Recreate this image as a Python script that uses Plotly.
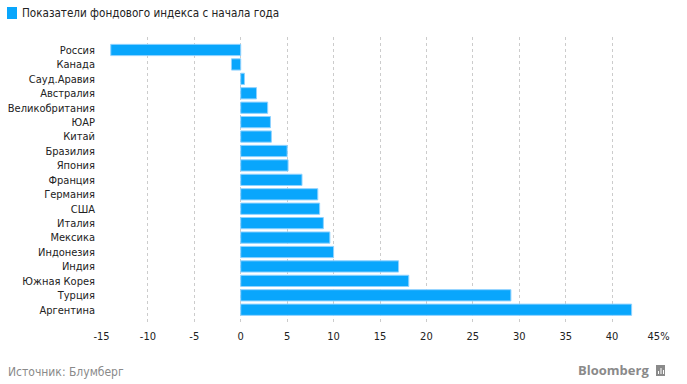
import plotly.graph_objects as go

countries = ["Россия", "Канада", "Сауд.Аравия", "Австралия", "Великобритания", "ЮАР", "Китай",
             "Бразилия", "Япония", "Франция", "Германия", "США", "Италия", "Мексика",
             "Индонезия", "Индия", "Южная Корея", "Турция", "Аргентина"]
values = [-14.0, -1.0, 0.4, 1.7, 2.9, 3.2, 3.3, 5.0, 5.1, 6.6, 8.3, 8.5, 8.9, 9.6, 10.0,
          17.0, 18.1, 29.1, 42.1]
tick_vals = [-15, -10, -5, 0, 5, 10, 15, 20, 25, 30, 35, 40, 45]
tick_text = ["-15", "-10", "-5", "0", "5", "10", "15", "20", "25", "30", "35", "40", "45%"]

FONT = "DejaVu Sans Condensed, DejaVu Sans"
fig = go.Figure()
fig.add_trace(go.Bar(
    y=countries, x=values, orientation="h",
    marker=dict(color="#09a6fc", line=dict(color="#8fd2ff", width=1)),
    hoverinfo="x+y",
))

fig.update_layout(
    width=687, height=384,
    margin=dict(l=101, r=28, t=37, b=62, autoexpand=False),
    paper_bgcolor="white", plot_bgcolor="white",
    showlegend=False, bargap=0.22,
    font=dict(family=FONT, size=11, color="#222"),
    xaxis=dict(range=[-15.05, 45.05], tickvals=tick_vals, ticktext=tick_text,
               showgrid=True, gridcolor="#cccccc", griddash="dot", gridwidth=1,
               zeroline=False, showline=False, ticks="", ticklabelstandoff=6,
               automargin=False,
               tickfont=dict(family=FONT, size=11, color="#222")),
    yaxis=dict(categoryorder="array", categoryarray=countries,
               range=[18.85, -0.9], showgrid=False, zeroline=False, showline=False,
               ticks="", ticklabelstandoff=5, automargin=False,
               tickfont=dict(family=FONT, size=11, color="#222")),
)

fig.add_shape(type="rect", xref="paper", yref="paper",
              x0=-94/558, x1=-84/558, y0=1+(37-7)/285, y1=1+(37-19)/285,
              fillcolor="#09a6fc", line=dict(width=0))
fig.add_annotation(text="Показатели фондового индекса с начала года",
                   xref="paper", yref="paper", x=-81/558, y=1+(37-13)/285,
                   xanchor="left", yanchor="middle", showarrow=False,
                   font=dict(family=FONT, size=11.6, color="#222"))
fig.add_annotation(text="Источник: Блумберг",
                   xref="paper", yref="paper", x=-95/558, y=-(372-322)/285,
                   xanchor="left", yanchor="middle", showarrow=False,
                   font=dict(family=FONT, size=12, color="#8a8a8a"))
fig.add_annotation(text="<b>Bloomberg</b>",
                   xref="paper", yref="paper", x=(651-101)/558, y=-(370-322)/285,
                   xanchor="right", yanchor="middle", showarrow=False,
                   font=dict(family="Open Sans", size=13, color="#8a8a8a"))
fig.add_shape(type="rect", xref="paper", yref="paper",
              x0=(656-101)/558, x1=(665-101)/558, y0=-(376-322)/285, y1=-(365-322)/285,
              fillcolor="#8a8a8a", line=dict(width=0))
for bx0, bh in [(658, 3), (660.5, 6), (663, 4)]:
    fig.add_shape(type="rect", xref="paper", yref="paper",
                  x0=(bx0-101)/558, x1=(bx0+1-101)/558,
                  y0=-(374-322)/285, y1=-(374-bh-322)/285,
                  fillcolor="white", line=dict(width=0))

fig.write_html("out.html", post_script="document.body.style.margin='0';",
               config={"displayModeBar": False})
